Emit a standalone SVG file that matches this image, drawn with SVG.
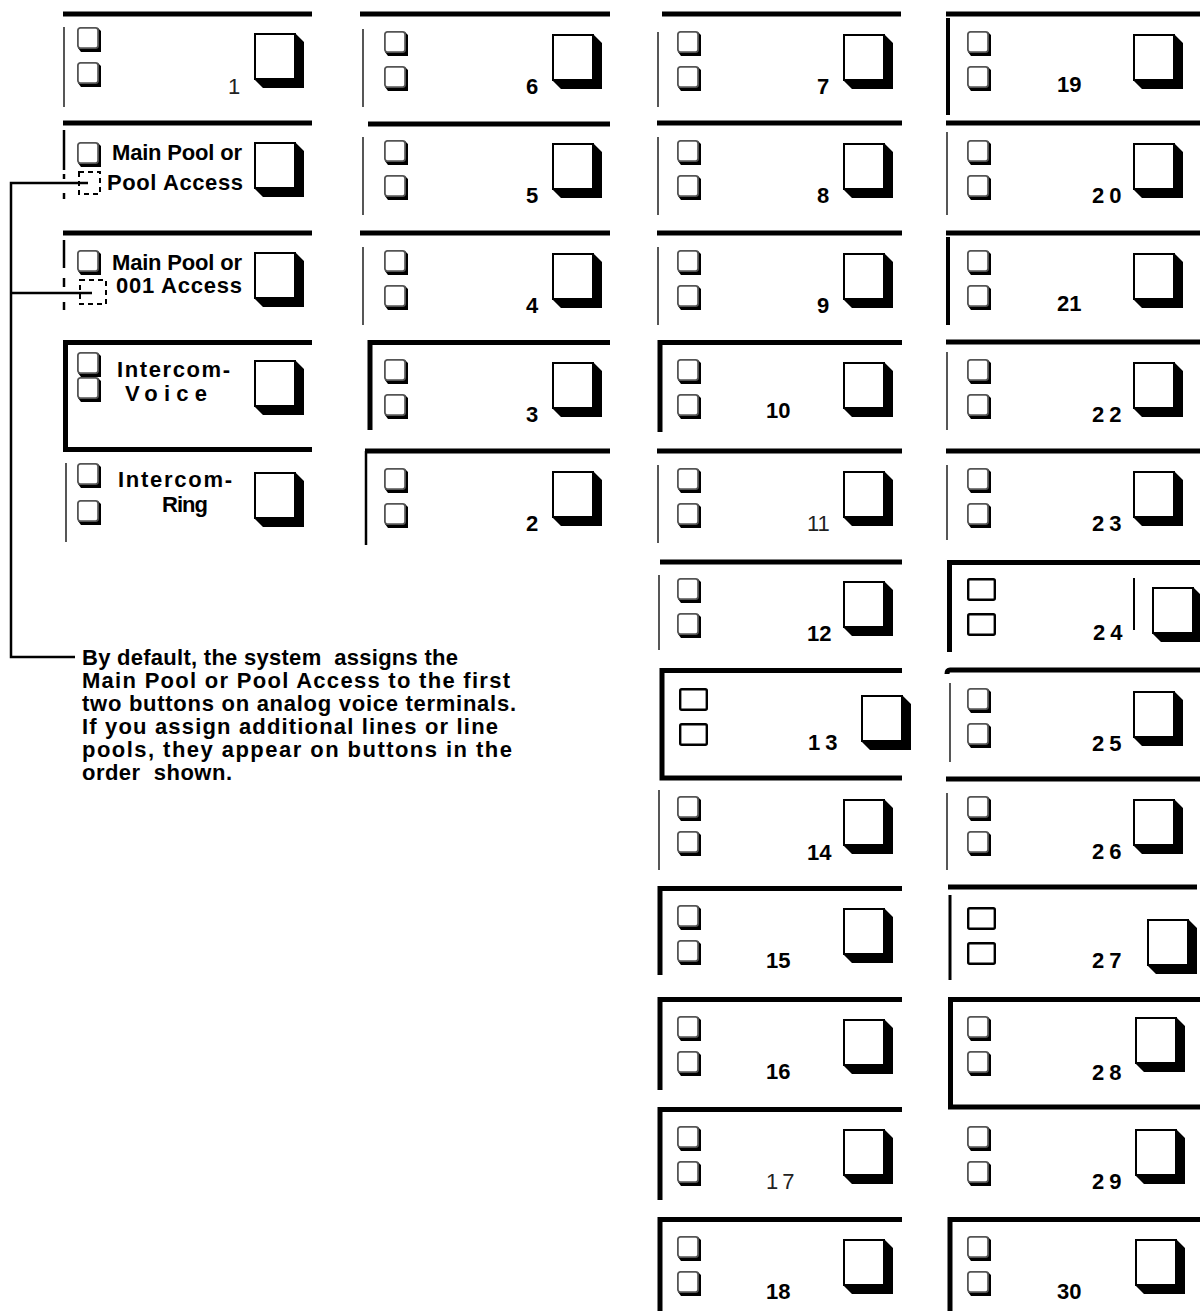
<svg xmlns="http://www.w3.org/2000/svg" width="1200" height="1311" viewBox="0 0 1200 1311">
<style>
.tl{stroke:#000;stroke-width:5;fill:none}
.ll{stroke:#444;stroke-width:1.8;fill:none}
.lk{stroke:#000;stroke-width:4;fill:none}
.dl{stroke:#000;stroke-width:2;fill:none;stroke-dasharray:5 4}
.cn{stroke:#000;stroke-width:2.5;fill:none}
.n{font-family:"Liberation Sans",Arial,Helvetica,sans-serif;font-size:22px;font-weight:bold;fill:#000}
.nr{font-weight:normal;fill:#222}
.sp{letter-spacing:5px}
.t{font-family:"Liberation Sans",Arial,Helvetica,sans-serif;font-size:22px;font-weight:bold;fill:#000}
</style>
<defs>
<g id="led"><path d="M1,21 L21,21 L21,1 L24,4 L24,25 L4,25 Z" fill="#000"/><rect x="0.9" y="0.9" width="20.2" height="20.2" rx="2.5" fill="#fff" stroke="#555" stroke-width="1.8"/></g>
<g id="pled"><rect x="1.2" y="1.2" width="26.6" height="20.6" rx="1.5" fill="#fff" stroke="#000" stroke-width="2.4"/></g>
<g id="btn"><path d="M0,46 L41,46 L41,0 L50,9 L50,55 L9,55 Z" fill="#000"/><rect x="1" y="1" width="40" height="45" fill="#fff" stroke="#000" stroke-width="2"/></g>
</defs>
<rect width="1200" height="1311" fill="#fff"/>

<!-- Column 1 -->
<g id="cell-1">
<line class="tl" x1="63" y1="14" x2="312" y2="14"/>
<line class="ll" x1="64" y1="27" x2="64" y2="107"/>
<use href="#led" x="77" y="27"/><use href="#led" x="77" y="62"/>
<use href="#btn" x="254" y="33"/>
<text class="n nr" x="228" y="94">1</text>
</g>
<g id="cell-main-pool-1">
<line class="tl" x1="63" y1="123" x2="312" y2="123"/>
<line class="lk" x1="64" y1="130" x2="64" y2="170" style="stroke-width:2.5"/>
<line class="lk" x1="64" y1="174" x2="64" y2="179" style="stroke-width:2.5"/>
<line class="lk" x1="64" y1="193" x2="64" y2="199" style="stroke-width:2.5"/>
<use href="#led" x="77" y="142"/>
<rect class="dl" x="79" y="172" width="21" height="22"/>
<use href="#btn" x="254" y="142"/>
<text class="t" x="112" y="160" textLength="130" lengthAdjust="spacing">Main Pool or</text>
<text class="t" x="107" y="190" textLength="136" lengthAdjust="spacing">Pool Access</text>
</g>
<g id="cell-main-pool-2">
<line class="tl" x1="63" y1="233" x2="312" y2="233"/>
<line class="lk" x1="64" y1="240" x2="64" y2="268" style="stroke-width:2.5"/>
<line class="lk" x1="64" y1="278" x2="64" y2="287" style="stroke-width:2.5"/>
<line class="lk" x1="64" y1="302" x2="64" y2="310" style="stroke-width:2.5"/>
<use href="#led" x="77" y="250"/>
<rect class="dl" x="80" y="280" width="26" height="24"/>
<use href="#btn" x="254" y="252"/>
<text class="t" x="112" y="270" textLength="130" lengthAdjust="spacing">Main Pool or</text>
<text class="t" x="116" y="293" textLength="126" lengthAdjust="spacing">001 Access</text>
</g>
<g id="cell-intercom-voice">
<path class="tl" d="M312,342.5 H65.5 V449.5 H312"/>
<use href="#led" x="77" y="352"/><use href="#led" x="77" y="377"/>
<use href="#btn" x="254" y="360"/>
<text class="t" x="117" y="377" textLength="113" lengthAdjust="spacing">Intercom-</text>
<text class="t" x="125" y="401" textLength="82" lengthAdjust="spacing">Voice</text>
</g>
<g id="cell-intercom-ring">
<line class="ll" x1="66" y1="463" x2="66" y2="542"/>
<use href="#led" x="77" y="463"/><use href="#led" x="77" y="500"/>
<use href="#btn" x="254" y="472"/>
<text class="t" x="118" y="487" textLength="114" lengthAdjust="spacing">Intercom-</text>
<text class="t" x="162" y="512" textLength="46" lengthAdjust="spacing">Ring</text>
</g>

<!-- Column 2 -->
<g id="cell-6">
<line class="tl" x1="360" y1="14" x2="610" y2="14"/>
<line class="ll" x1="363" y1="29" x2="363" y2="107"/>
<use href="#led" x="384" y="31"/><use href="#led" x="384" y="66"/>
<use href="#btn" x="552" y="34"/>
<text class="n" x="526" y="94">6</text>
</g>
<g id="cell-5">
<line class="tl" x1="368" y1="124" x2="610" y2="124"/>
<line class="ll" x1="363" y1="137" x2="363" y2="215"/>
<use href="#led" x="384" y="140"/><use href="#led" x="384" y="175"/>
<use href="#btn" x="552" y="143"/>
<text class="n" x="526" y="203">5</text>
</g>
<g id="cell-4">
<line class="tl" x1="360" y1="233" x2="610" y2="233"/>
<line class="ll" x1="363" y1="247" x2="363" y2="325"/>
<use href="#led" x="384" y="250"/><use href="#led" x="384" y="285"/>
<use href="#btn" x="552" y="253"/>
<text class="n" x="526" y="313">4</text>
</g>
<g id="cell-3">
<path class="tl" d="M610,342.5 H370 V430"/>
<use href="#led" x="384" y="359"/><use href="#led" x="384" y="394"/>
<use href="#btn" x="552" y="362"/>
<text class="n" x="526" y="422">3</text>
</g>
<g id="cell-2">
<line class="tl" x1="365" y1="451" x2="610" y2="451"/>
<line class="lk" x1="366" y1="451" x2="366" y2="545" style="stroke-width:2.5"/>
<use href="#led" x="384" y="468"/><use href="#led" x="384" y="503"/>
<use href="#btn" x="552" y="471"/>
<text class="n" x="526" y="531">2</text>
</g>

<!-- Column 3 -->
<g id="cell-7">
<line class="tl" x1="662" y1="14" x2="901" y2="14"/>
<line class="ll" x1="658" y1="32" x2="658" y2="107"/>
<use href="#led" x="677" y="31"/><use href="#led" x="677" y="66"/>
<use href="#btn" x="843" y="34"/>
<text class="n" x="817" y="94">7</text>
</g>
<g id="cell-8">
<line class="tl" x1="657" y1="123" x2="902" y2="123"/>
<line class="ll" x1="658" y1="137" x2="658" y2="215"/>
<use href="#led" x="677" y="140"/><use href="#led" x="677" y="175"/>
<use href="#btn" x="843" y="143"/>
<text class="n" x="817" y="203">8</text>
</g>
<g id="cell-9">
<line class="tl" x1="657" y1="233" x2="902" y2="233"/>
<line class="ll" x1="658" y1="247" x2="658" y2="325"/>
<use href="#led" x="677" y="250"/><use href="#led" x="677" y="285"/>
<use href="#btn" x="843" y="253"/>
<text class="n" x="817" y="313">9</text>
</g>
<g id="cell-10">
<path class="tl" d="M902,342.5 H660 V432"/>
<use href="#led" x="677" y="359"/><use href="#led" x="677" y="394"/>
<use href="#btn" x="843" y="362"/>
<text class="n" x="766" y="418">10</text>
</g>
<g id="cell-11">
<line class="tl" x1="657" y1="451" x2="902" y2="451"/>
<line class="ll" x1="658" y1="465" x2="658" y2="543"/>
<use href="#led" x="677" y="468"/><use href="#led" x="677" y="503"/>
<use href="#btn" x="843" y="471"/>
<text class="n nr" x="807" y="531">11</text>
</g>
<g id="cell-12">
<line class="tl" x1="660" y1="562" x2="902" y2="562"/>
<line class="ll" x1="659" y1="575" x2="659" y2="650"/>
<use href="#led" x="677" y="578"/><use href="#led" x="677" y="613"/>
<use href="#btn" x="843" y="581"/>
<text class="n" x="807" y="641">12</text>
</g>
<g id="cell-13">
<path class="tl" d="M902,670.5 H662 V778 H902"/>
<use href="#pled" x="679" y="688"/><use href="#pled" x="679" y="723"/>
<use href="#btn" x="861" y="695"/>
<text class="n sp" x="808" y="750">13</text>
</g>
<g id="cell-14">
<line class="ll" x1="659" y1="790" x2="659" y2="870"/>
<use href="#led" x="677" y="796"/><use href="#led" x="677" y="831"/>
<use href="#btn" x="843" y="799"/>
<text class="n" x="807" y="860">14</text>
</g>
<g id="cell-15">
<path class="tl" d="M902,888.5 H660 V975"/>
<use href="#led" x="677" y="905"/><use href="#led" x="677" y="940"/>
<use href="#btn" x="843" y="908"/>
<text class="n" x="766" y="968">15</text>
</g>
<g id="cell-16">
<path class="tl" d="M902,999.5 H660 V1090"/>
<use href="#led" x="677" y="1016"/><use href="#led" x="677" y="1051"/>
<use href="#btn" x="843" y="1019"/>
<text class="n" x="766" y="1079">16</text>
</g>
<g id="cell-17">
<path class="tl" d="M902,1109.5 H660 V1200"/>
<use href="#led" x="677" y="1126"/><use href="#led" x="677" y="1161"/>
<use href="#btn" x="843" y="1129"/>
<text class="n nr" x="766" y="1189" style="letter-spacing:4px">17</text>
</g>
<g id="cell-18">
<path class="tl" d="M902,1219.5 H660 V1311"/>
<use href="#led" x="677" y="1236"/><use href="#led" x="677" y="1271"/>
<use href="#btn" x="843" y="1239"/>
<text class="n" x="766" y="1299">18</text>
</g>

<!-- Column 4 -->
<g id="cell-19">
<line class="tl" x1="946" y1="14" x2="1200" y2="14"/>
<line class="lk" x1="948" y1="18" x2="948" y2="115"/>
<use href="#led" x="967" y="31"/><use href="#led" x="967" y="66"/>
<use href="#btn" x="1133" y="34"/>
<text class="n" x="1057" y="92">19</text>
</g>
<g id="cell-20">
<line class="tl" x1="946" y1="123" x2="1200" y2="123"/>
<line class="ll" x1="947" y1="132" x2="947" y2="215"/>
<use href="#led" x="967" y="140"/><use href="#led" x="967" y="175"/>
<use href="#btn" x="1133" y="143"/>
<text class="n sp" x="1092" y="203">20</text>
</g>
<g id="cell-21">
<line class="tl" x1="946" y1="233" x2="1200" y2="233"/>
<line class="lk" x1="948" y1="237" x2="948" y2="325"/>
<use href="#led" x="967" y="250"/><use href="#led" x="967" y="285"/>
<use href="#btn" x="1133" y="253"/>
<text class="n" x="1057" y="311">21</text>
</g>
<g id="cell-22">
<line class="tl" x1="946" y1="342" x2="1200" y2="342"/>
<line class="ll" x1="947" y1="352" x2="947" y2="430"/>
<use href="#led" x="967" y="359"/><use href="#led" x="967" y="394"/>
<use href="#btn" x="1133" y="362"/>
<text class="n sp" x="1092" y="422">22</text>
</g>
<g id="cell-23">
<line class="tl" x1="946" y1="451" x2="1200" y2="451"/>
<line class="ll" x1="947" y1="465" x2="947" y2="540"/>
<use href="#led" x="967" y="468"/><use href="#led" x="967" y="503"/>
<use href="#btn" x="1133" y="471"/>
<text class="n sp" x="1092" y="531">23</text>
</g>
<g id="cell-24">
<path class="tl" d="M1200,562.5 H949.5 V652"/>
<line class="ll" x1="1134" y1="578" x2="1134" y2="630" style="stroke:#000;stroke-width:2"/>
<use href="#pled" x="967" y="578"/><use href="#pled" x="967" y="613"/>
<use href="#btn" x="1152" y="587"/>
<text class="n sp" x="1093" y="640">24</text>
</g>
<g id="cell-25">
<path class="tl" d="M1200,670 H950 Q947,670 947,674"/>
<line class="ll" x1="950" y1="683" x2="950" y2="762"/>
<use href="#led" x="967" y="688"/><use href="#led" x="967" y="723"/>
<use href="#btn" x="1133" y="691"/>
<text class="n sp" x="1092" y="751">25</text>
</g>
<g id="cell-26">
<line class="tl" x1="946" y1="779" x2="1200" y2="779"/>
<line class="ll" x1="947" y1="793" x2="947" y2="870"/>
<use href="#led" x="967" y="796"/><use href="#led" x="967" y="831"/>
<use href="#btn" x="1133" y="799"/>
<text class="n sp" x="1092" y="859">26</text>
</g>
<g id="cell-27">
<line class="tl" x1="948" y1="887" x2="1197" y2="887"/>
<line class="lk" x1="950" y1="895" x2="950" y2="980" style="stroke-width:3"/>
<use href="#pled" x="967" y="907"/><use href="#pled" x="967" y="942"/>
<use href="#btn" x="1147" y="919"/>
<text class="n sp" x="1092" y="968">27</text>
</g>
<g id="cell-28">
<path class="tl" d="M1200,999.5 H950.5 V1107 H1200"/>
<use href="#led" x="967" y="1016"/><use href="#led" x="967" y="1051"/>
<use href="#btn" x="1135" y="1017"/>
<text class="n sp" x="1092" y="1080">28</text>
</g>
<g id="cell-29">
<use href="#led" x="967" y="1126"/><use href="#led" x="967" y="1161"/>
<use href="#btn" x="1135" y="1129"/>
<text class="n sp" x="1092" y="1189">29</text>
</g>
<g id="cell-30">
<path class="tl" d="M1200,1219.5 H950 V1311"/>
<use href="#led" x="967" y="1236"/><use href="#led" x="967" y="1271"/>
<use href="#btn" x="1135" y="1239"/>
<text class="n" x="1057" y="1299">30</text>
</g>

<!-- Connectors -->
<g id="connectors">
<path class="cn" d="M88,183 H11 V657 H75"/>
<path class="cn" d="M11,293 H92"/>
</g>

<!-- Note -->
<g id="note">
<text class="t" x="82" y="665" textLength="376" lengthAdjust="spacing" xml:space="preserve">By default, the system  assigns the</text>
<text class="t" x="82" y="688" textLength="428" lengthAdjust="spacing">Main Pool or Pool Access to the first</text>
<text class="t" x="82" y="711" textLength="434" lengthAdjust="spacing">two buttons on analog voice terminals.</text>
<text class="t" x="82" y="734" textLength="416" lengthAdjust="spacing">If you assign additional lines or line</text>
<text class="t" x="82" y="757" textLength="430" lengthAdjust="spacing">pools, they appear on buttons in the</text>
<text class="t" x="82" y="780" textLength="150" lengthAdjust="spacing" xml:space="preserve">order  shown.</text>
</g>
</svg>
